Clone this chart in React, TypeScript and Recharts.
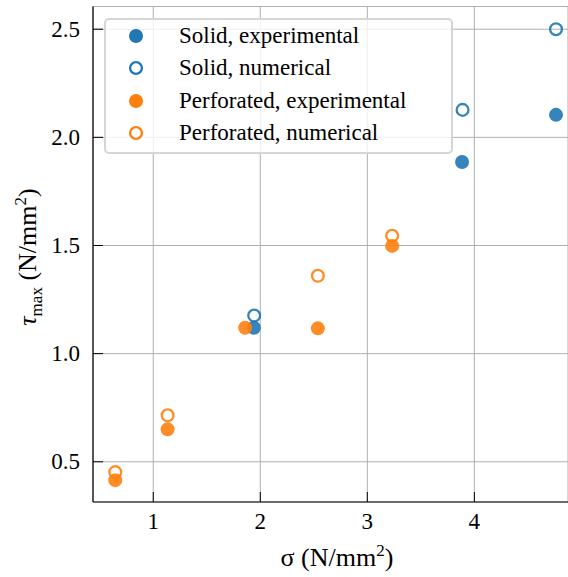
import React from "react";
import { ScatterChart, Scatter, XAxis, YAxis, CartesianGrid } from "recharts";

const solidExp = [
  { x: 1.94, y: 1.12 },
  { x: 3.885, y: 1.886 },
  { x: 4.763, y: 2.104 },
];
const solidNum = [
  { x: 1.943, y: 1.176 },
  { x: 3.89, y: 2.127 },
  { x: 4.763, y: 2.5 },
];
const perfExp = [
  { x: 0.645, y: 0.415 },
  { x: 1.134, y: 0.65 },
  { x: 1.859, y: 1.12 },
  { x: 2.538, y: 1.117 },
  { x: 3.232, y: 1.498 },
];
const perfNum = [
  { x: 0.645, y: 0.452 },
  { x: 1.134, y: 0.715 },
  { x: 2.538, y: 1.36 },
  { x: 3.232, y: 1.545 },
];

const xTicks = [1, 2, 3, 4];
const yTicks = [0.5, 1.0, 1.5, 2.0, 2.5];

const BLUE = "#1f77b4";
const ORANGE = "#ff7f0e";

const seriesList = [
  { name: "Solid, experimental", data: solidExp, color: BLUE, open: false },
  { name: "Solid, numerical", data: solidNum, color: BLUE, open: true },
  { name: "Perforated, experimental", data: perfExp, color: ORANGE, open: false },
  { name: "Perforated, numerical", data: perfNum, color: ORANGE, open: true },
];

const FONT = "Liberation Serif, Times New Roman, serif";

const makeShape = (color: string, open: boolean) => (props: any) => {
  const { cx, cy } = props;
  if (open) {
    return <circle cx={cx} cy={cy} r={5.9} fill="none" stroke={color} strokeWidth={2.3} strokeOpacity={0.9} />;
  }
  return <circle cx={cx} cy={cy} r={7} fill={color} fillOpacity={0.9} />;
};

const BottomTick = (props: any) => {
  const { x, y, payload } = props;
  return (
    <g>
      <line x1={x} y1={y} x2={x} y2={y - 10} stroke="#000" strokeWidth={1} />
      <text x={x} y={y + 27} textAnchor="middle" style={{ fontFamily: FONT, fontSize: 23 }} fill="#000">
        {payload.value}
      </text>
    </g>
  );
};

const TopTick = (props: any) => {
  const { x, y } = props;
  return <line x1={x} y1={y} x2={x} y2={y + 10} stroke="#000" strokeWidth={1} />;
};

const LeftTick = (props: any) => {
  const { x, y, payload } = props;
  return (
    <g>
      <line x1={x} y1={y} x2={x + 10} y2={y} stroke="#000" strokeWidth={1} />
      <text x={x - 13} y={y + 7.5} textAnchor="end" style={{ fontFamily: FONT, fontSize: 23 }} fill="#000">
        {Number(payload.value).toFixed(1)}
      </text>
    </g>
  );
};

const XLabel = () => (
  <text x={337} y={566} textAnchor="middle" style={{ fontFamily: FONT, fontSize: 26 }} fill="#000">
    <tspan>σ</tspan>
    <tspan> (N/mm</tspan>
    <tspan dy={-10} style={{ fontSize: 17 }}>2</tspan>
    <tspan dy={10}>)</tspan>
  </text>
);

const YLabel = () => (
  <text
    x={0}
    y={0}
    transform="translate(36,257) rotate(-90)"
    textAnchor="middle"
    style={{ fontFamily: FONT, fontSize: 26 }}
    fill="#000"
  >
    <tspan fontStyle="italic">τ</tspan>
    <tspan dy={6} style={{ fontSize: 17 }}>max</tspan>
    <tspan dy={-6}> (N/mm</tspan>
    <tspan dy={-10} style={{ fontSize: 17 }}>2</tspan>
    <tspan dy={10}>)</tspan>
  </text>
);

const LegendBox = () => (
  <div
    style={{
      position: "absolute",
      left: 104,
      top: 18,
      width: 349,
      height: 136,
      boxSizing: "border-box",
      border: "2px solid rgba(204,204,204,0.8)",
      borderRadius: 5,
      background: "rgba(255,255,255,0.8)",
      fontFamily: FONT,
      fontSize: 23,
      color: "#000",
    }}
  >
    {seriesList.map((s, i) => (
      <div key={s.name} style={{ position: "absolute", left: 0, top: 16 + i * 32.4, height: 0 }}>
        <svg width={20} height={20} style={{ position: "absolute", left: 20, top: -10 }}>
          {s.open ? (
            <circle cx={10} cy={10} r={5.9} fill="none" stroke={s.color} strokeWidth={2.3} />
          ) : (
            <circle cx={10} cy={10} r={7} fill={s.color} />
          )}
        </svg>
        <span style={{ position: "absolute", left: 73, top: -14, whiteSpace: "nowrap", lineHeight: "28px" }}>
          {s.name}
        </span>
      </div>
    ))}
  </div>
);

export default function App() {
  return (
    <div style={{ position: "absolute", left: 0, top: 0, width: 568, height: 577 }}>
      <ScatterChart width={568} height={577} margin={{ top: 6.5, right: 0, left: 0, bottom: 0 }}>
        <CartesianGrid stroke="#b0b0b0" strokeWidth={1} />
        <XAxis
          type="number"
          dataKey="x"
          domain={[0.437, 4.875]}
          ticks={xTicks}
          allowDataOverflow
          height={75}
          tickSize={0}
          tickMargin={0}
          tickLine={false}
          axisLine={{ stroke: "#000", strokeWidth: 1.2 }}
          tick={<BottomTick />}
          label={() => <XLabel />}
        />
        <XAxis
          xAxisId="top"
          orientation="top"
          type="number"
          dataKey="x"
          domain={[0.437, 4.875]}
          ticks={xTicks}
          allowDataOverflow
          height={0}
          tickSize={0}
          tickMargin={0}
          tickLine={false}
          axisLine={{ stroke: "#000", strokeWidth: 1.2 }}
          tick={<TopTick />}
        />
        <YAxis
          type="number"
          dataKey="y"
          domain={[0.314, 2.605]}
          ticks={yTicks}
          allowDataOverflow
          width={93}
          tickSize={0}
          tickMargin={0}
          tickLine={false}
          axisLine={{ stroke: "#000", strokeWidth: 1.2 }}
          tick={<LeftTick />}
          label={() => <YLabel />}
        />
        {seriesList.map((s) => (
          <Scatter
            key={s.name}
            name={s.name}
            data={s.data}
            fill={s.color}
            shape={makeShape(s.color, s.open)}
            isAnimationActive={false}
          />
        ))}
      </ScatterChart>
      <LegendBox />
    </div>
  );
}
